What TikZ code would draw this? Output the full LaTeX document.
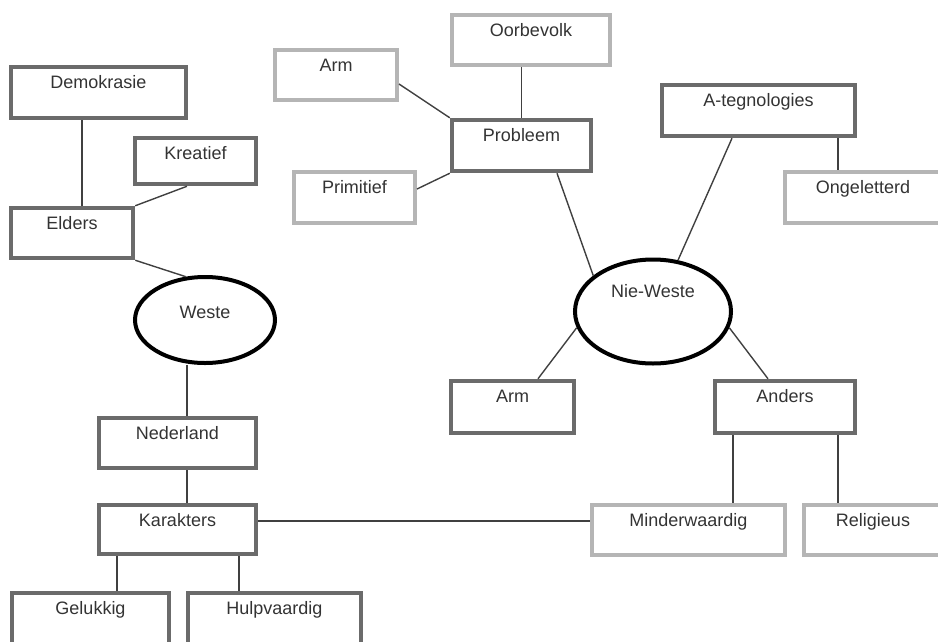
\documentclass[tikz,border=0pt]{standalone}
\usepackage{fontspec}
\setmainfont{Liberation Sans}
\usetikzlibrary{shapes.geometric}
\definecolor{darkbox}{HTML}{6B6B6B}
\definecolor{lightbox}{HTML}{B5B5B5}
\definecolor{conn}{HTML}{404040}
\definecolor{txt}{HTML}{333333}
\tikzset{
  basebox/.style={draw, rectangle, inner sep=0pt, text height=21pt, text=txt,
    font=\fontsize{18}{21}\selectfont},
  darkb/.style={basebox, draw=darkbox, line width=4.5pt},
  lightb/.style={basebox, draw=lightbox, line width=4pt},
  oval/.style={draw=black, ellipse, line width=4pt, inner sep=0pt, text=txt,
    font=\fontsize{18}{21}\selectfont},
  link/.style={draw=conn, line width=1.4pt}
}
\begin{document}
\begin{tikzpicture}[x=1pt,y=-1pt]
\useasboundingbox (0,0) rectangle (938,641);
\clip (0,0) rectangle (938,641);
% left side
\node[darkb, minimum width=175pt, minimum height=51pt, text depth=30pt] (demo) at (98.5,92.5) {Demokrasie};
\node[darkb, minimum width=121pt, minimum height=46pt, text depth=25pt] (krea) at (195.5,161) {Kreatief};
\node[darkb, minimum width=122pt, minimum height=50pt, text depth=29pt] (elders) at (72,233) {Elders};
\node[oval, minimum width=140pt, minimum height=86pt, text height=8pt, text depth=12pt] (weste) at (205,320) {Weste};
\node[darkb, minimum width=157pt, minimum height=50pt, text depth=29pt] (ned) at (177.5,443) {Nederland};
\node[darkb, minimum width=157pt, minimum height=49pt, text depth=28pt] (kar) at (177.5,529.5) {Karakters};
\node[darkb, minimum width=157pt, minimum height=54pt, text depth=33pt] (gel) at (90.5,620) {Gelukkig};
\node[darkb, minimum width=173pt, minimum height=54pt, text depth=33pt] (hulp) at (274.5,620) {Hulpvaardig};
% top middle
\node[lightb, minimum width=158pt, minimum height=50pt, text depth=29pt] (oor) at (531,40) {Oorbevolk};
\node[lightb, minimum width=122pt, minimum height=50pt, text depth=29pt] (armA) at (336,75) {Arm};
\node[darkb, minimum width=139pt, minimum height=51pt, text depth=30pt] (prob) at (521.5,145.5) {Probleem};
\node[lightb, minimum width=121pt, minimum height=51pt, text depth=30pt] (prim) at (354.5,197.5) {Primitief};
% right side
\node[darkb, minimum width=193pt, minimum height=51pt, text depth=30pt] (ategn) at (758.5,110.5) {A-tegnologies};
\node[lightb, minimum width=156pt, minimum height=51pt, text depth=30pt] (onge) at (863,197.5) {Ongeletterd};
\node[oval, minimum width=156pt, minimum height=104pt, text height=8pt, text depth=37pt] (nie) at (653,311.5) {Nie-Weste};
\node[darkb, minimum width=123pt, minimum height=52pt, text depth=31pt] (armB) at (512.5,407) {Arm};
\node[darkb, minimum width=140pt, minimum height=52pt, text depth=31pt] (anders) at (785,407) {Anders};
\node[lightb, minimum width=193pt, minimum height=50pt, text depth=29pt] (minder) at (688.5,530) {Minderwaardig};
\node[lightb, minimum width=138pt, minimum height=50pt, text depth=29pt] (rel) at (873,530) {Religieus};
% connectors
\draw[link] ([xshift=10]elders.north) -- ([xshift=10]elders.north |- demo.south);
\draw[link] (elders.north east) -- ([xshift=-8.5]krea.south);
\draw[link] (elders.south east) -- (weste.114);
\draw[link] ([xshift=9.5]ned.north) -- ([xshift=9.5]ned.north |- weste.south);
\draw[link] ([xshift=9.5]ned.south) -- ([xshift=9.5]ned.south |- kar.north);
\draw[link] ([xshift=-60.5]kar.south) -- ([xshift=-60.5]kar.south |- gel.north);
\draw[link] ([xshift=61.5]kar.south) -- ([xshift=61.5]kar.south |- hulp.north);
\draw[link] ([yshift=8.5]kar.east) -- ([yshift=8.5]kar.east -| minder.west);
\draw[link] (prob.north) -- (prob.north |- oor.south);
\draw[link] ([yshift=-9]armA.east) -- (prob.north west);
\draw[link] ([yshift=8.5]prim.east) -- (prob.south west);
\draw[link] ([xshift=35.5]prob.south) -- (nie.149);
\draw[link] ([xshift=-26.5]ategn.south) -- (nie.64);
\draw[link] ([xshift=79.5]ategn.south) -- ([xshift=79.5]ategn.south |- onge.north);
\draw[link] (nie.192) -- ([xshift=25.5]armB.north);
\draw[link] (nie.348) -- ([xshift=-17]anders.north);
\draw[link] ([xshift=-52]anders.south) -- ([xshift=-52]anders.south |- minder.north);
\draw[link] ([xshift=53]anders.south) -- ([xshift=53]anders.south |- rel.north);
\end{tikzpicture}
\end{document}
